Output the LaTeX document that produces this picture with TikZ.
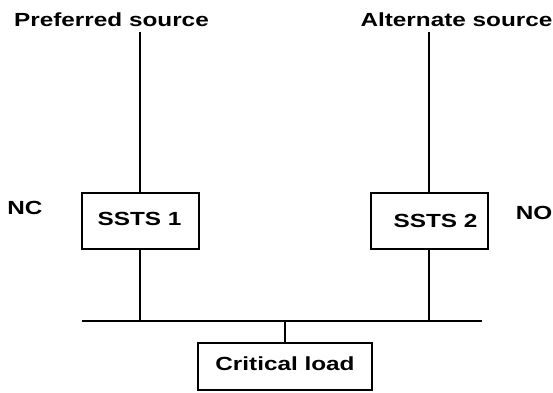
\documentclass[tikz,border=0pt]{standalone}
\usepackage{fontspec}
\setmainfont{Liberation Sans}
\tikzset{
  wire/.style={line width=2pt, line cap=rect},
  boxnode/.style={draw, line width=2pt, inner sep=0pt, fill=white},
  lbl/.style={anchor=base, inner sep=0pt, font=\fontsize{19}{21}\selectfont\bfseries},
}
\newcommand{\wlab}[1]{\scalebox{1.28}[1]{#1}}
\begin{document}
\begin{tikzpicture}[x=1pt,y=-1pt]
\useasboundingbox (0,0) rectangle (553,392);
% labels
\node[lbl] (pref) at (111.5,26) {\wlab{Preferred source}};
\node[lbl] (alt) at (456.5,26) {\wlab{Alternate source}};
\node[lbl] (nc) at (25,214) {\wlab{NC}};
\node[lbl] (no) at (534,219) {\wlab{NO}};
% boxes
\node[boxnode, minimum width=117pt, minimum height=56pt] (s1) at (140.5,221) {};
\node[boxnode, minimum width=117pt, minimum height=56pt] (s2) at (429.5,221) {};
\node[boxnode, minimum width=174pt, minimum height=47pt] (cl) at (285,366.5) {};
\node[lbl] (s1t) at (139.5,225.7) {\wlab{SSTS 1}};
\node[lbl] (s2t) at (435.5,227) {\wlab{SSTS 2}};
\node[lbl] (clt) at (285,370) {\wlab{Critical load}};
% coordinates
\coordinate (p1) at (140,33);
\coordinate (p2) at (429,33);
\coordinate (busL) at (82,321);
\coordinate (busR) at (482,321);
\coordinate (j1) at (140,321);
\coordinate (j2) at (429,321);
\coordinate (jc) at (285,321);
% wires
\draw[wire] (p1) -- (p1 |- s1.north);
\draw[wire] (p2) -- (p2 |- s2.north);
\draw[wire] (j1 |- s1.south) -- (j1);
\draw[wire] (j2 |- s2.south) -- (j2);
\draw[wire, line cap=butt] (busL) -- (busR);
\draw[wire] (jc) -- (jc |- cl.north);
\end{tikzpicture}
\end{document}
